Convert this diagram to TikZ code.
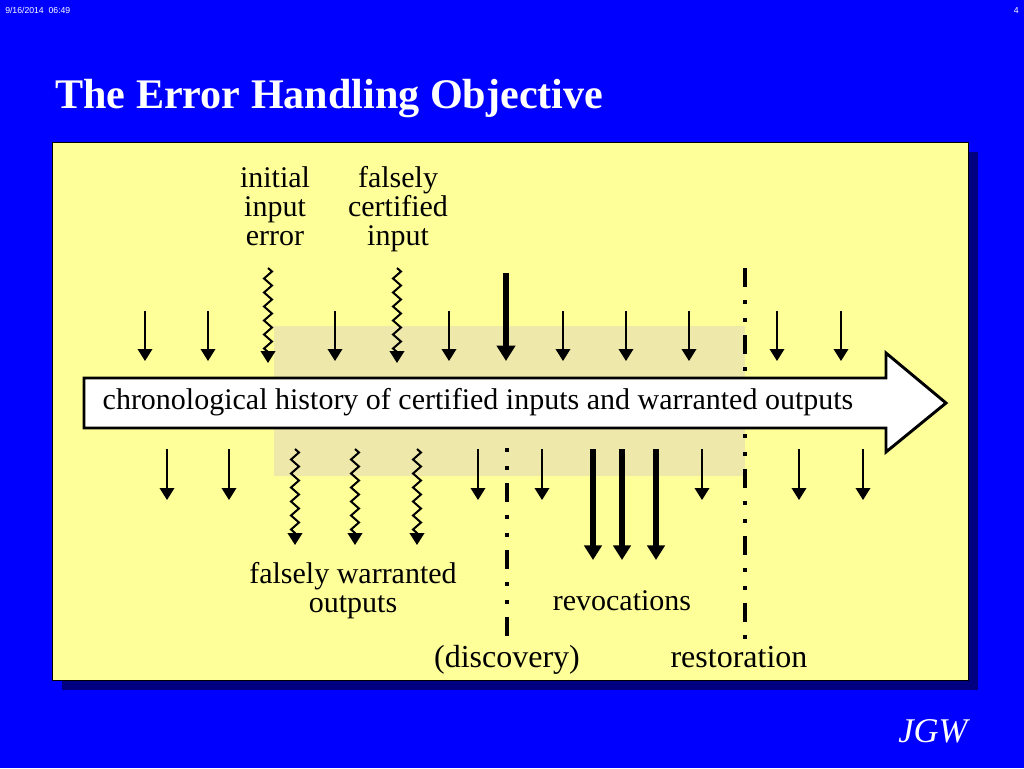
\documentclass[tikz,border=0pt]{standalone}
\usepackage{fontspec}
\setmainfont{Liberation Serif}
\newfontfamily\hdrfont{Liberation Sans}
\usetikzlibrary{arrows.meta,decorations.pathmorphing}
\definecolor{slideblue}{RGB}{0,0,255}
\definecolor{shadownavy}{RGB}{0,0,128}
\definecolor{panelyellow}{RGB}{255,255,153}
\definecolor{shadetan}{RGB}{238,232,170}
\begin{document}
\begin{tikzpicture}[x=0.75pt,y=-0.75pt,
  thinarr/.style={line width=1.1pt,-{Triangle[width=11pt,length=9pt]}},
  thickarr/.style={line width=4.3pt,-{Triangle[width=13pt,length=11pt]}},
  boldarr/.style={line width=3.8pt,-{Triangle[width=13.5pt,length=11.5pt]}},
  wavyarr/.style={line width=1.5pt,decorate,
    decoration={zigzag,amplitude=3pt,segment length=10.5pt,post length=8pt},
    -{Triangle[width=11pt,length=9pt]}},
  dashdot/.style={line width=3pt,dash pattern=on 14.25pt off 9.75pt on 3pt off 10.5pt on 3pt off 9.75pt},
  dotdash/.style={line width=3pt,dash pattern=on 3pt off 10.5pt on 3pt off 9.75pt on 14.25pt off 9.75pt},
  lbl/.style={inner sep=0pt,anchor=base,align=center,font=\fontsize{22.5}{21.75}\selectfont},
  lblb/.style={inner sep=0pt,anchor=base,font=\fontsize{24}{26}\selectfont}]
% background and page
\fill[slideblue] (0,0) rectangle (1024,768);
\useasboundingbox (0,0) rectangle (1024,768);
\node[inner sep=0pt,anchor=base west,text=white,font=\hdrfont\fontsize{6.5}{7}\selectfont] (date) at (5,13) {9/16/2014\ \ 06:49};
\node[inner sep=0pt,anchor=base east,text=white,font=\hdrfont\fontsize{6.5}{7}\selectfont] (pagenum) at (1019,13) {4};
\node[inner sep=0pt,anchor=base west,text=white,font=\bfseries\fontsize{31.6}{33}\selectfont] (title) at (55,108) {The Error Handling Objective};
% panel
\fill[shadownavy] (62,152) rectangle (978,690);
\draw[fill=panelyellow,line width=0.6pt] (52,142) rectangle (968,680);
\fill[shadetan] (274,326) rectangle (745,476);
% dash-dot lines
\coordinate (restTop) at (745,268);
\coordinate (restBot) at (745,640);
\draw[dashdot] (restTop) -- (restBot);
\coordinate (discTop) at (507,448);
\coordinate (discBot) at (507,636);
\draw[dotdash] (discTop) -- (discBot);
% top thin arrows
\foreach \x [count=\i] in {145,208,335,449,563,626,689,777,841}{
  \coordinate (ti\i) at (\x,311);
  \coordinate (to\i) at (\x,361);
  \draw[thinarr] (ti\i) -- (to\i);
}
% bottom thin arrows
\foreach \x [count=\i] in {167,229,478,542,702,799,863}{
  \coordinate (bi\i) at (\x,449);
  \coordinate (bo\i) at (\x,500);
  \draw[thinarr] (bi\i) -- (bo\i);
}
% wavy top arrows
\foreach \x [count=\i] in {268,397}{
  \coordinate (wi\i) at (\x,268);
  \coordinate (wo\i) at (\x,363);
  \draw[wavyarr] (wi\i) -- (wo\i);
}
% wavy bottom arrows
\foreach \x [count=\i] in {295,355,417}{
  \coordinate (vi\i) at (\x,449);
  \coordinate (vo\i) at (\x,545);
  \draw[wavyarr] (vi\i) -- (vo\i);
}
% thick top arrow (discovery)
\coordinate (dTop) at (506,273);
\coordinate (dEnd) at (506,361);
\draw[boldarr] (dTop) -- (dEnd);
% revocation arrows
\foreach \x [count=\i] in {593,622,656}{
  \coordinate (ri\i) at (\x,449);
  \coordinate (ro\i) at (\x,560);
  \draw[thickarr] (ri\i) -- (ro\i);
}
% big history arrow
\draw[fill=white,line width=2.2pt,line join=miter]
  (84,378) -- (886,378) -- (886,353) -- (946,403) -- (886,452) -- (886,428) -- (84,428) -- cycle;
\node[inner sep=0pt,anchor=base,font=\fontsize{22.5}{24}\selectfont] (hist) at (478,409)
  {chronological history of certified inputs and warranted outputs};
% labels (base anchor = last line)
\node[lbl] (initerr) at (275,245) {initial\\input\\error};
\node[lbl] (falsecert) at (398,245) {falsely\\certified\\input};
\node[lbl] (falsewarr) at (353,612) {falsely warranted\\outputs};
\node[lbl] (revoc) at (622,610) {revocations};
\node[lblb] (disc) at (507,667) {(discovery)};
\node[lblb] (rest) at (739,667) {restoration};
\node[inner sep=0pt,anchor=base west,text=white,font=\itshape\fontsize{26}{28}\selectfont] (jgw) at (898,742) {JGW};
\end{tikzpicture}
\end{document}
